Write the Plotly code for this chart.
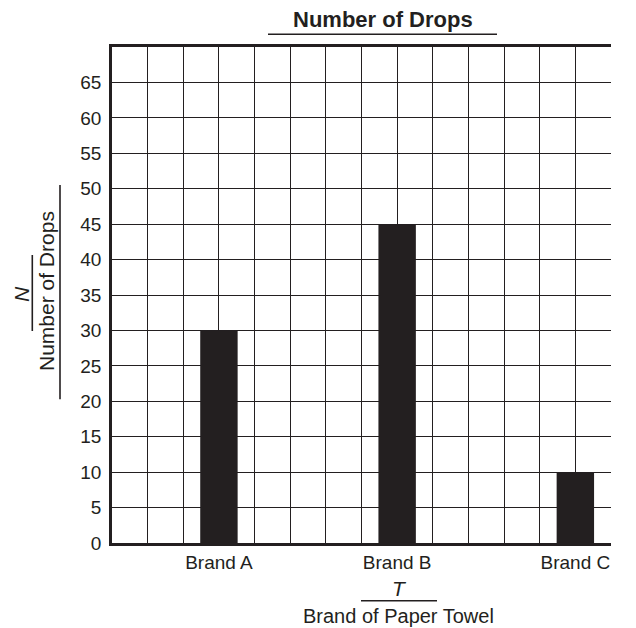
import plotly.graph_objects as go

# ---- data ----
brands = ["Brand A", "Brand B", "Brand C"]
drops = [30, 45, 10]
brand_slots = [3, 8, 13]          # grid column where each brand sits (14-column sheet)
y_tick_vals = list(range(0, 70, 5))
y_tick_text = [str(v) for v in y_tick_vals]

# ---- layout constants ----
W, H = 636, 628
L, R, T, B = 112, 25, 47, 85
INK = "#231f20"
FONT = "Liberation Sans, Arial, Helvetica, sans-serif"


def px(x):
    return (x - L) / (W - L - R)


def py(y):
    return (H - B - y) / (H - T - B)


fig = go.Figure()
fig.add_trace(go.Bar(
    x=brand_slots, y=drops, width=1.05,
    marker=dict(color=INK, line=dict(width=0)),
    showlegend=False, hoverinfo="skip",
))

grid_w = 1.4
fig.update_layout(
    width=W, height=H,
    margin=dict(l=L, r=R, t=T, b=B, pad=0),
    paper_bgcolor="white", plot_bgcolor="white",
    font=dict(family=FONT, color=INK, size=19),
    showlegend=False,
    xaxis=dict(
        range=[0, 14], tickmode="array", tickvals=brand_slots, ticktext=brands,
        showgrid=True, gridcolor=INK, gridwidth=grid_w,
        minor=dict(tickmode="linear", tick0=0, dtick=1, showgrid=True,
                   gridcolor=INK, gridwidth=grid_w, ticks=""),
        ticks="", ticklen=0, zeroline=False,
        showline=True, linecolor=INK, linewidth=2.5, mirror=True,
        tickfont=dict(size=19, color=INK, family=FONT),
        ticklabelstandoff=0,
    ),
    yaxis=dict(
        range=[0, 70], tickmode="array", tickvals=y_tick_vals, ticktext=y_tick_text,
        showgrid=True, gridcolor=INK, gridwidth=grid_w,
        zeroline=False, ticks="", ticklen=0,
        showline=True, linecolor=INK, linewidth=2.5,
        tickfont=dict(size=19, color=INK, family=FONT),
        ticklabelstandoff=4,
    ),
)

ann = dict(xref="paper", yref="paper", showarrow=False, xanchor="center", yanchor="middle")
fig.add_annotation(text="<b>Number of Drops</b>", x=px(383), y=py(19), font=dict(size=22), **ann)
fig.add_annotation(text="<i>N</i>", x=px(21), y=py(294), textangle=-90, font=dict(size=21), **ann)
fig.add_annotation(text="Number of Drops", x=px(46.5), y=py(291.5), textangle=-90, font=dict(size=21), **ann)
fig.add_annotation(text="<i>T</i>", x=px(399), y=py(588), font=dict(size=21), **ann)
fig.add_annotation(text="Brand of Paper Towel", x=px(398), y=py(616), font=dict(size=20), **ann)

line = dict(type="line", xref="paper", yref="paper", line=dict(color=INK, width=1.6))
fig.add_shape(x0=px(268), x1=px(497), y0=py(34.3), y1=py(34.3), **line)
fig.add_shape(x0=px(32.3), x1=px(32.3), y0=py(255), y1=py(331), **line)
fig.add_shape(x0=px(60), x1=px(60), y0=py(185), y1=py(399.3), **line)
fig.add_shape(x0=px(361), x1=px(437), y0=py(600.7), y1=py(600.7), **line)

fig.write_html("out.html", config={"displayModeBar": False},
               post_script="document.body.style.margin='0';")
